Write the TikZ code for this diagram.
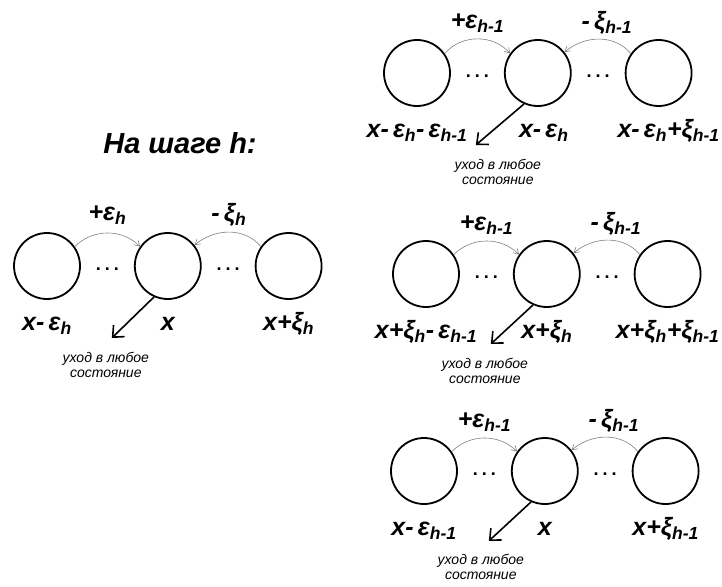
\documentclass[tikz,border=0pt]{standalone}
\usepackage{fontspec}
\setmainfont{Liberation Sans}
\usetikzlibrary{arrows.meta, positioning, calc}

\newcommand{\gap}{.\hspace{4pt}.\hspace{4pt}.}

\begin{document}
\begin{tikzpicture}[
        x=1pt, y=1pt,
        node distance=53pt,
        state/.style={circle, draw, line width=1.8pt, minimum size=66pt, inner sep=0pt},
        lbl/.style={font=\fontsize{25}{28}\selectfont\bfseries\itshape, inner sep=0pt, text height=18pt, text depth=6pt},
        dots/.style={font=\fontsize{18}{20}\selectfont\bfseries, inner sep=0pt, yshift=-3pt},
        note/.style={font=\fontsize{14}{15}\selectfont\itshape, align=center, inner sep=0pt},
        jump/.style={draw=gray, line width=0.6pt, -{Straight Barb[length=5pt, width=6pt]}},
        leave/.style={line width=1.6pt, -{Straight Barb[length=9pt, width=16pt]}}
        ]
        \useasboundingbox (0,0) rectangle (722,-586);

        % Title
        \node (title) [font=\fontsize{29}{33}\selectfont\bfseries\itshape] at (180,-143) {На шаге h:};

        % Step h (left)
        \node (a1) [state] at (47,-266) {};
        \node (a2) [state, right=of a1] {};
        \node (a3) [state, right=of a2] {};
        \node (ad1) [dots] at ($(a1)!0.5!(a2)$) {\gap};
        \node (ad2) [dots] at ($(a2)!0.5!(a3)$) {\gap};

        \draw [jump] (a1.35) to[out=45, in=135] node (ae) [lbl, above=6pt] {+ε\textsubscript{h}} (a2.145);
        \draw [jump] (a3.145) to[out=130, in=40] node (ax) [lbl, above=4pt] {-\,ξ\textsubscript{h}} (a2.38);

        \node (al1) [lbl, below=12pt of a1] {x-\,ε\textsubscript{h}};
        \node (al2) [lbl, below=12pt of a2] {x};
        \node (al3) [lbl, below=12pt of a3] {x+ξ\textsubscript{h}};

        \coordinate (at) at ([shift={(-56,-72)}]a2.center);
        \draw [leave] (a2.-114) -- (at);
        \node (an) [note, below=14pt of at, xshift=-6pt] {уход в любое\\состояние};

        % Step h-1, first row
        \node (b1) [state] at (417,-73) {};
        \node (b2) [state, right=of b1] {};
        \node (b3) [state, right=of b2] {};
        \node (bd1) [dots] at ($(b1)!0.5!(b2)$) {\gap};
        \node (bd2) [dots] at ($(b2)!0.5!(b3)$) {\gap};

        \draw [jump] (b1.35) to[out=50, in=130] node (be) [lbl, above=4pt] {+ε\textsubscript{h-1}} (b2.145);
        \draw [jump] (b3.145) to[out=130, in=40] node (bx) [lbl, above=3pt, xshift=8pt] {-\,ξ\textsubscript{h-1}} (b2.38);

        \node (bl1) [lbl, below=12pt of b1] {x-\,ε\textsubscript{h}-\,ε\textsubscript{h-1}};
        \node (bl2) [lbl, below=12pt of b2, xshift=6pt] {x-\,ε\textsubscript{h}};
        \node (bl3) [lbl, below=12pt of b3, xshift=10pt] {x-\,ε\textsubscript{h}+ξ\textsubscript{h-1}};

        \coordinate (bt) at ([shift={(-62,-72)}]b2.center);
        \draw [leave] (b2.-114) -- (bt);
        \node (bn) [note, below=14pt of bt, xshift=22pt] {уход в любое\\состояние};

        % Step h-1, second row
        \node (c1) [state] at (426,-274) {};
        \node (c2) [state, right=of c1] {};
        \node (c3) [state, right=of c2] {};
        \node (cd1) [dots] at ($(c1)!0.5!(c2)$) {\gap};
        \node (cd2) [dots] at ($(c2)!0.5!(c3)$) {\gap};

        \draw [jump] (c1.35) to[out=45, in=135] node (ce) [lbl, above=4pt] {+ε\textsubscript{h-1}} (c2.145);
        \draw [jump] (c3.145) to[out=130, in=40] node (cx) [lbl, above=3pt, xshift=8pt] {-\,ξ\textsubscript{h-1}} (c2.38);

        \node (cl1) [lbl, below=12pt of c1] {x+ξ\textsubscript{h}-\,ε\textsubscript{h-1}};
        \node (cl2) [lbl, below=12pt of c2] {x+ξ\textsubscript{h}};
        \node (cl3) [lbl, below=12pt of c3] {x+ξ\textsubscript{h}+ξ\textsubscript{h-1}};

        \coordinate (ct) at ([shift={(-56,-70)}]c2.center);
        \draw [leave] (c2.-114) -- (ct);
        \node (cn) [note, below=14pt of ct, xshift=-6pt] {уход в любое\\состояние};

        % Step h-1, third row
        \node (d1) [state] at (424,-471) {};
        \node (d2) [state, right=of d1] {};
        \node (d3) [state, right=of d2] {};
        \node (dd1) [dots] at ($(d1)!0.5!(d2)$) {\gap};
        \node (dd2) [dots] at ($(d2)!0.5!(d3)$) {\gap};

        \draw [jump] (d1.35) to[out=45, in=135] node (de) [lbl, above=4pt] {+ε\textsubscript{h-1}} (d2.145);
        \draw [jump] (d3.145) to[out=130, in=40] node (dx) [lbl, above=3pt, xshift=8pt] {-\,ξ\textsubscript{h-1}} (d2.38);

        \node (dl1) [lbl, below=12pt of d1] {x-\,ε\textsubscript{h-1}};
        \node (dl2) [lbl, below=12pt of d2] {x};
        \node (dl3) [lbl, below=12pt of d3] {x+ξ\textsubscript{h-1}};

        \coordinate (dt) at ([shift={(-56,-70)}]d2.center);
        \draw [leave] (d2.-114) -- (dt);
        \node (dn) [note, below=13pt of dt, xshift=-8pt] {уход в любое\\состояние};

\end{tikzpicture}
\end{document}
